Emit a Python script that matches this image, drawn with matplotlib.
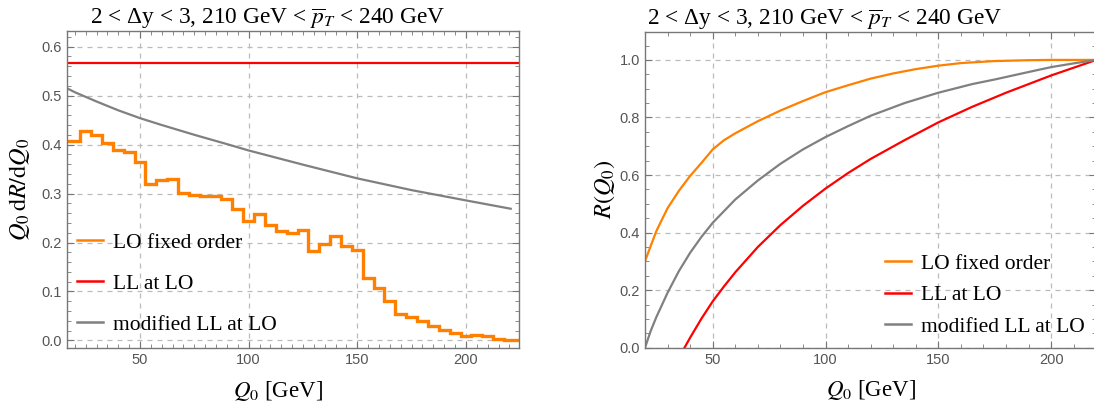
import numpy as np
import matplotlib.pyplot as plt
from matplotlib.ticker import MultipleLocator

plt.rcParams['mathtext.fontset'] = 'stix'

# left panel: Q0 dR/dQ0, LO histogram in 5 GeV bins
bin_centers = np.arange(20, 221, 5)
lo_hist = [0.407, 0.428, 0.420, 0.404, 0.388, 0.385, 0.364, 0.319, 0.327, 0.329,
           0.301, 0.298, 0.295, 0.294, 0.288, 0.268, 0.243, 0.258, 0.236, 0.224,
           0.220, 0.226, 0.183, 0.197, 0.214, 0.192, 0.184, 0.127, 0.107, 0.080,
           0.054, 0.048, 0.040, 0.030, 0.021, 0.016, 0.010, 0.012, 0.009, 0.004,
           0.001]
ll_lo_density = 0.566
mod_q = [16, 20, 30, 40, 50, 60, 75, 90, 100, 125, 150, 175, 200, 220.6]
mod_density = [0.516, 0.507, 0.488, 0.470, 0.454, 0.440, 0.420, 0.401, 0.388,
               0.359, 0.331, 0.307, 0.286, 0.269]

# right panel: R(Q0)
lo_q = [20, 22.5, 25, 30, 35, 40, 45, 50, 55, 60, 70, 80, 90, 100, 110, 120,
        130, 140, 150, 160, 175, 190, 200, 210, 220]
lo_R = [0.301, 0.353, 0.405, 0.485, 0.545, 0.597, 0.642, 0.689, 0.721, 0.745,
        0.787, 0.824, 0.857, 0.888, 0.912, 0.935, 0.953, 0.968, 0.980, 0.989,
        0.996, 0.999, 1.0, 1.0, 1.0]
ll_q = [37.5, 40, 45, 50, 55, 60, 70, 80, 90, 100, 110, 120, 135, 150, 165, 180,
        200, 220]
ll_R = [0.0, 0.035, 0.101, 0.161, 0.213, 0.262, 0.350, 0.426, 0.493, 0.553,
        0.607, 0.656, 0.721, 0.783, 0.837, 0.886, 0.946, 1.0]
mod_R_q = [20, 22.5, 25, 30, 35, 40, 45, 50, 60, 70, 80, 90, 100, 110, 120, 135,
           150, 165, 175, 190, 200, 210, 220]
mod_R = [0.0, 0.058, 0.106, 0.191, 0.266, 0.330, 0.385, 0.434, 0.515, 0.581,
         0.639, 0.689, 0.732, 0.770, 0.806, 0.850, 0.886, 0.916, 0.932, 0.958,
         0.975, 0.988, 1.0]

labels = ['LO fixed order', 'LL at LO', 'modified LL at LO']
title = '2 < Δy < 3, 210 GeV < $\\overline{p}_T$ < 240 GeV'
orange = '#ff8000'
red = '#ff0000'
gray = '#808080'
serif = 'Liberation Serif'

fig = plt.figure(figsize=(10.94, 4.05), dpi=100)
ax1 = fig.add_axes([0.061, 0.14, 0.4134, 0.7835])
ax2 = fig.add_axes([0.5896, 0.1415, 0.4125, 0.7802])


def style(ax, xminor, ymajor, yminor, title_x, xlabel_x):
    for s in ax.spines.values():
        s.set_color('#777777')
        s.set_linewidth(1.0)
    ax.xaxis.set_major_locator(MultipleLocator(50))
    ax.xaxis.set_minor_locator(MultipleLocator(xminor))
    ax.yaxis.set_major_locator(MultipleLocator(ymajor))
    ax.yaxis.set_minor_locator(MultipleLocator(yminor))
    ax.yaxis.set_major_formatter(plt.FuncFormatter(lambda v, p: f'{v:.1f}'))
    ax.tick_params(which='both', direction='in', top=True, right=True,
                   color='#777777', labelcolor='#555555', labelsize=10.5)
    ax.tick_params(which='major', length=5)
    ax.tick_params(which='minor', length=3)
    for lab in ax.get_xticklabels() + ax.get_yticklabels():
        lab.set_family('Liberation Sans')
    ax.grid(True, which='major', color='#bbbbbb', linestyle=(0, (4, 4)),
            linewidth=0.9)
    ax.set_axisbelow(True)
    ax.set_title(title, family=serif, fontsize=16.8, pad=3, x=title_x)
    ax.set_xlabel('$Q_0$ [GeV]', family=serif, fontsize=16.5)
    ax.xaxis.set_label_coords(xlabel_x, -0.097)


legend_kw = dict(frameon=False, prop={'family': serif, 'size': 15.5},
                 handlelength=1.2, handletextpad=0.47, borderpad=0,
                 borderaxespad=0, loc='lower left')

# left panel
x_lo, x_hi = 16.3, 224.4
edges = np.append(bin_centers - 2.5, bin_centers[-1] + 2.5).astype(float)
edges[0] = x_lo
edges[-1] = x_hi
ax1.stairs(lo_hist, edges, baseline=None, color=orange, linewidth=2.4)
ax1.axhline(ll_lo_density, color=red, linewidth=1.6)
ax1.plot(mod_q, mod_density, color=gray, linewidth=1.6)
ax1.set_xlim(x_lo, x_hi)
ax1.set_ylim(-0.016, 0.632)
style(ax1, 5, 0.1, 0.02, 0.445, 0.467)
ax1.set_ylabel('$Q_0\\,\\mathrm{d}R/\\mathrm{d}Q_0$', family=serif, fontsize=17.5)
ax1.yaxis.set_label_coords(-0.077, 0.5)
handles = [plt.Line2D([], [], color=c, lw=1.8) for c in (orange, red, gray)]
ax1.legend(handles, labels, bbox_to_anchor=(0.023, 0.042), labelspacing=0.98,
           **legend_kw)

# right panel
ax2.plot(lo_q, lo_R, color=orange, linewidth=1.6)
ax2.plot(ll_q, ll_R, color=red, linewidth=1.6)
ax2.plot(mod_R_q, mod_R, color=gray, linewidth=1.6)
ax2.set_xlim(20, 220)
ax2.set_ylim(0, 1.098)
style(ax2, 10, 0.2, 0.05, 0.397, 0.5)
ax2.set_ylabel('$R(Q_0)$', family=serif, fontsize=17.5)
ax2.yaxis.set_label_coords(-0.062, 0.5)
ax2.legend(handles, labels, bbox_to_anchor=(0.532, 0.034), labelspacing=0.53,
           **legend_kw)

fig.savefig('out.png', dpi=100)
